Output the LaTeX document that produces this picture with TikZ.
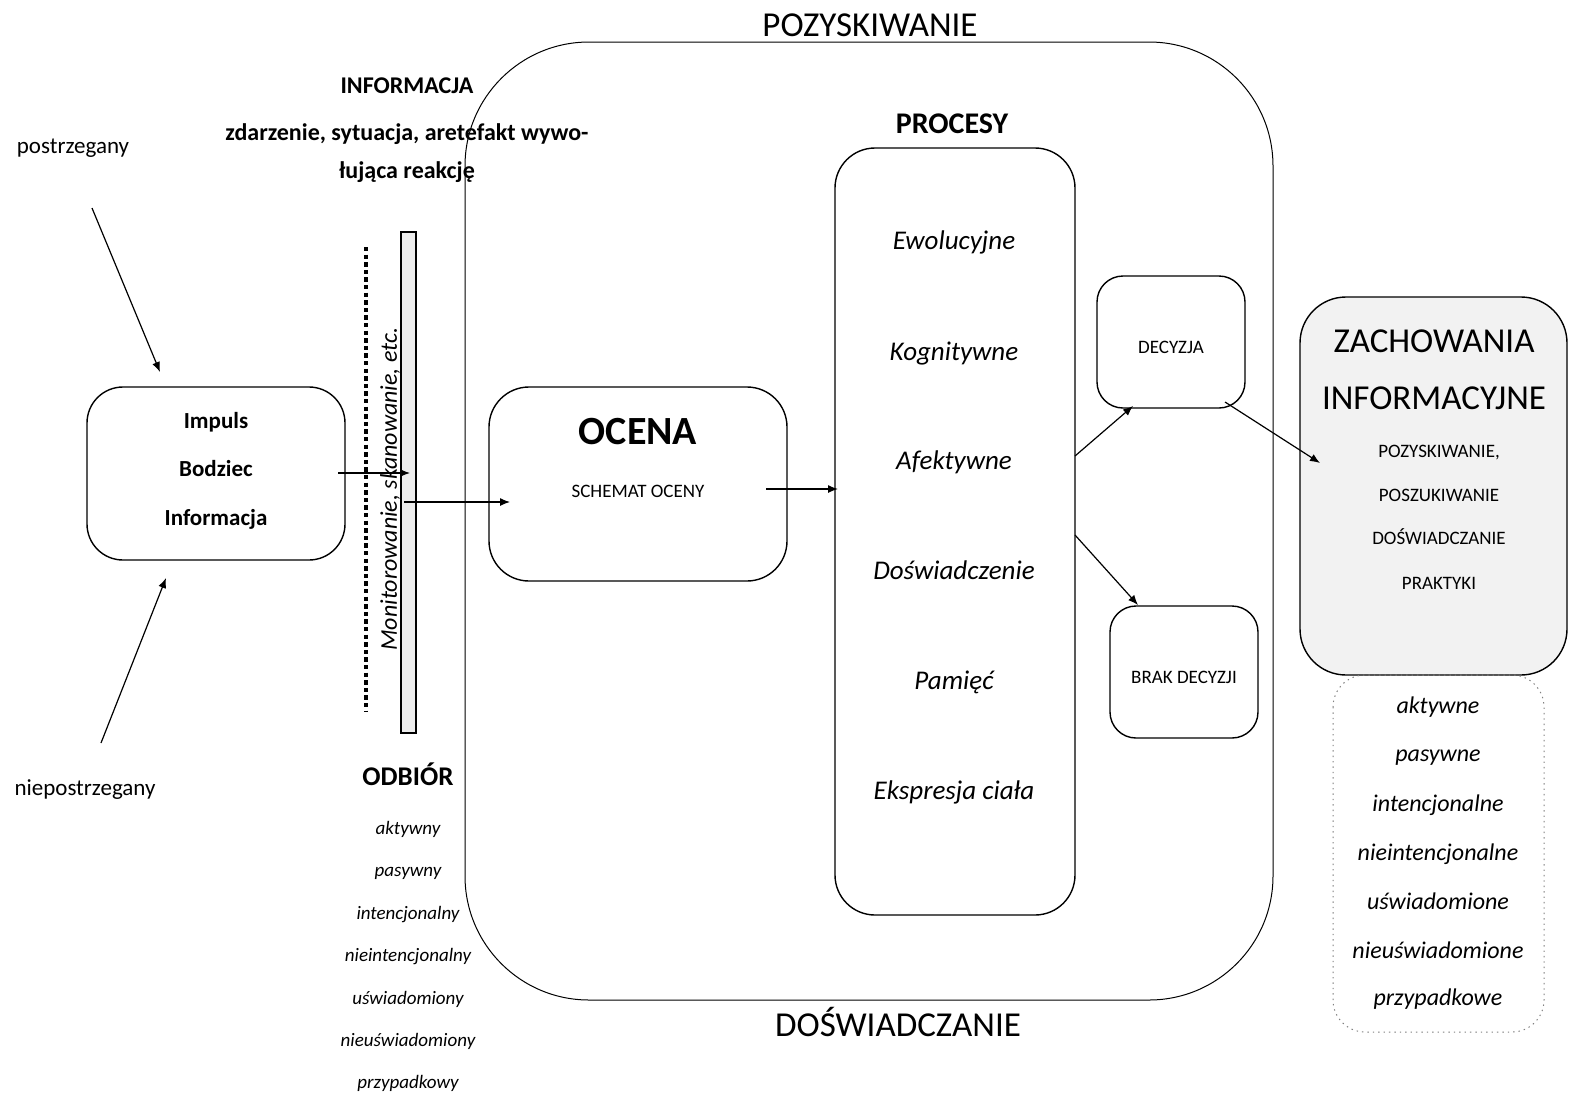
\documentclass[tikz,border=0pt]{standalone}
\usepackage{fontspec}
\setmainfont{Carlito}
\usetikzlibrary{arrows.meta}
\newcommand{\fs}[1]{\fontsize{#1}{#1}\selectfont}
\tikzset{
  box/.style={draw, line width=0.7pt, rounded corners=#1},
  conn/.style={line width=0.6pt, -{Latex[length=5pt,width=4pt]}},
  txt/.style={inner sep=0pt, anchor=base, yshift={-0.322*#1}},
  txtml/.style={inner sep=0pt, anchor=center},
}
\begin{document}
\begin{tikzpicture}[x=0.5pt,y=-0.5pt]
\useasboundingbox (0,0) rectangle (1569,1093);
% big frame
\draw[box=62pt, line width=0.5pt] (465,42) rectangle (1273,1000);
\node[txt=17.5, font=\fs{17.5}] (poz) at (870,25) {POZYSKIWANIE};
\node[txt=17.5, font=\fs{17.5}] (dos) at (898,1025) {DOŚWIADCZANIE};
% INFORMACJA
\node[txt=12, font=\fs{12}\bfseries] (info) at (407,86) {INFORMACJA};
\node[txtml, align=center] (zd) at (407,153) {\fs{12}\bfseries zdarzenie, sytuacja, aretefakt wywo-\\[7pt]\fs{12}\bfseries łująca reakcję};
% left labels
\node[txt=11.5, font=\fs{11.5}] (post) at (73,146) {postrzegany};
\node[txt=11.5, font=\fs{11.5}] (niepost) at (85,788) {niepostrzegany};
\coordinate (pa) at (92,208);
\coordinate (na) at (101,743);
% impuls box
\draw[box=18pt] (87,387) rectangle (345,560);
\node[txt=11.5, font=\fs{11.5}\bfseries] (imp) at (216,421) {Impuls};
\node[txt=11.5, font=\fs{11.5}\bfseries] (bod) at (216,469) {Bodziec};
\node[txt=11.5, font=\fs{11.5}\bfseries] (inf) at (216,518) {Informacja};
\coordinate (imptop) at (160,372);
\coordinate (impbot) at (166,578);
\draw[conn] (pa) -- (imptop);
\draw[conn] (na) -- (impbot);
% bar and dotted line
\draw[fill=gray!15, line width=0.7pt] (401,232) rectangle (416,733);
\draw[line width=2.2pt, dash pattern=on 2.2pt off 1.6pt] (366,247) -- (366,712);
\node[txtml, rotate=90, font=\fs{12}\itshape] (mon) at (390,489) {Monitorowanie, skanowanie, etc.};
\coordinate (impout) at (338,473);
\coordinate (barin) at (410,473);
\coordinate (barout) at (404,502);
\draw[conn] (impout) -- (barin);
% ODBIOR
\node[txt=13.5, font=\fs{13.5}\bfseries] (odb) at (408,777) {ODBIÓR};
\tikzset{odl/.style={txt=9.5, font=\fs{9.5}\itshape}}
\node[odl] (o1) at (408,828) {aktywny};
\node[odl] (o2) at (408,870) {pasywny};
\node[odl] (o3) at (408,913) {intencjonalny};
\node[odl] (o4) at (408,955) {nieintencjonalny};
\node[odl] (o5) at (408,998) {uświadomiony};
\node[odl] (o6) at (408,1040) {nieuświadomiony};
\node[odl] (o7) at (408,1082) {przypadkowy};
% OCENA
\draw[box=20pt] (489,387) rectangle (787,581);
\node[txt=20, font=\fs{20}\bfseries] (oc) at (638,432) {OCENA};
\node[txt=9.5, font=\fs{9.5}] (sch) at (638,491) {SCHEMAT OCENY};
\coordinate (ocin) at (510,502);
\draw[conn] (barout) -- (ocin);
% PROCESY
\node[txt=15, font=\fs{15}\bfseries] (proc) at (952,124) {PROCESY};
\draw[box=20pt] (835,148) rectangle (1075,915);
\tikzset{prl/.style={txt=13.5, font=\fs{13.5}\itshape}}
\node[prl] (p1) at (954,241) {Ewolucyjne};
\node[prl] (p2) at (954,352) {Kognitywne};
\node[prl] (p3) at (954,461) {Afektywne};
\node[prl] (p4) at (954,571) {Doświadczenie};
\node[prl] (p5) at (954,681) {Pamięć};
\node[prl] (p6) at (954,791) {Ekspresja ciała};
\coordinate (ocout) at (766,489);
\coordinate (prin) at (838,489);
\draw[conn] (ocout) -- (prin);
% DECYZJA
\draw[box=13pt] (1097,276) rectangle (1245,408);
\node[txt=9.5, font=\fs{9.5}] (dec) at (1171,347) {DECYZJA};
\draw[box=13pt] (1110,606) rectangle (1258,738);
\node[txt=9.5, font=\fs{9.5}] (brak) at (1184,677) {BRAK DECYZJI};
\coordinate (pr1) at (1075,456);
\coordinate (dec1) at (1133,406);
\coordinate (pr2) at (1075,535);
\coordinate (brak1) at (1138,605);
\draw[conn] (pr1) -- (dec1);
\draw[conn] (pr2) -- (brak1);
% ZACHOWANIA
\draw[box=23pt, fill=gray!10] (1300,297) rectangle (1567,675);
\node[txt=17.5, font=\fs{17.5}] (zach) at (1434,341) {ZACHOWANIA};
\node[txt=17.5, font=\fs{17.5}] (infc) at (1434,398) {INFORMACYJNE};
\tikzset{zl/.style={txt=9.5, font=\fs{9.5}}}
\node[zl] (z1) at (1439,451) {POZYSKIWANIE,};
\node[zl] (z2) at (1439,495) {POSZUKIWANIE};
\node[zl] (z3) at (1439,538) {DOŚWIADCZANIE};
\node[zl] (z4) at (1439,583) {PRAKTYKI};
\coordinate (decout) at (1225,402);
\coordinate (zin) at (1320,463);
\draw[conn] (decout) -- (zin);
% dotted box
\draw[box=16pt, dotted, line width=0.5pt, gray] (1333,675) rectangle (1544,1032);
\tikzset{rl/.style={txt=12, font=\fs{12}\itshape}}
\node[rl] (r1) at (1438,706) {aktywne};
\node[rl] (r2) at (1438,754) {pasywne};
\node[rl] (r3) at (1438,804) {intencjonalne};
\node[rl] (r4) at (1438,853) {nieintencjonalne};
\node[rl] (r5) at (1438,902) {uświadomione};
\node[rl] (r6) at (1438,951) {nieuświadomione};
\node[rl] (r7) at (1438,998) {przypadkowe};
\end{tikzpicture}
\end{document}
